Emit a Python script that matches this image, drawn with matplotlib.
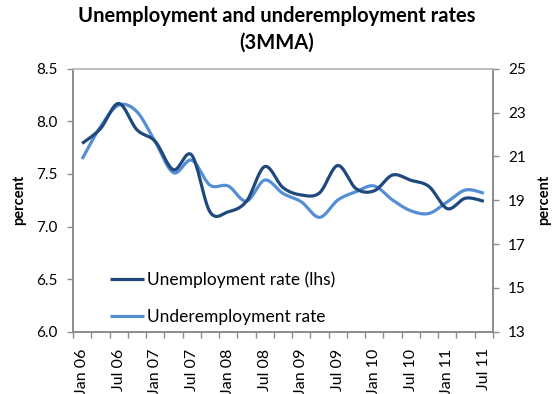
import numpy as np
import matplotlib.pyplot as plt

plt.rcParams['font.family'] = ['Lato', 'DejaVu Sans']

# quarterly points, Jan 06 .. Jul 11 (3 month moving average)
quarters = ['Jan 06', 'Apr 06', 'Jul 06', 'Oct 06', 'Jan 07', 'Apr 07', 'Jul 07', 'Oct 07',
            'Jan 08', 'Apr 08', 'Jul 08', 'Oct 08', 'Jan 09', 'Apr 09', 'Jul 09', 'Oct 09',
            'Jan 10', 'Apr 10', 'Jul 10', 'Oct 10', 'Jan 11', 'Apr 11', 'Jul 11']
unemployment = [7.79, 7.93, 8.17, 7.92, 7.81, 7.54, 7.68, 7.14, 7.14, 7.24, 7.57, 7.37,
                7.30, 7.32, 7.58, 7.36, 7.34, 7.49, 7.44, 7.38, 7.17, 7.27, 7.24]
underemployment = [20.88, 22.35, 23.34, 23.04, 21.67, 20.26, 20.83, 19.69, 19.65, 18.96, 19.92,
                   19.31, 18.93, 18.22, 19.01, 19.39, 19.65, 19.01, 18.52, 18.40, 18.93, 19.47,
                   19.32]
left_ticks = [6.0, 6.5, 7.0, 7.5, 8.0, 8.5]
right_ticks = [13, 15, 17, 19, 21, 23, 25]

dark = '#1f497d'
light = '#558ed5'
grey = '#8c8c8c'


def smooth(y, n=20):
    # Catmull-Rom style bezier through each point, like spreadsheet "smoothed line"
    y = np.asarray(y, float)
    x = np.arange(len(y), dtype=float)
    px = np.concatenate([[x[0]], x, [x[-1]]])
    py = np.concatenate([[y[0]], y, [y[-1]]])
    t = np.linspace(0, 1, n, endpoint=False)[:, None]
    xs, ys = [], []
    for i in range(1, len(x)):
        p0x, p1x, p2x, p3x = px[i - 1], px[i], px[i + 1], px[i + 2]
        p0y, p1y, p2y, p3y = py[i - 1], py[i], py[i + 1], py[i + 2]
        c = np.array([[p1x, p1y],
                      [p1x + (p2x - p0x) / 6, p1y + (p2y - p0y) / 6],
                      [p2x - (p3x - p1x) / 6, p2y - (p3y - p1y) / 6],
                      [p2x, p2y]])
        b = ((1 - t) ** 3 * c[0] + 3 * (1 - t) ** 2 * t * c[1]
             + 3 * (1 - t) * t ** 2 * c[2] + t ** 3 * c[3])
        xs.append(b[:, 0])
        ys.append(b[:, 1])
    xs.append([x[-1]])
    ys.append([y[-1]])
    return np.concatenate(xs), np.concatenate(ys)


fig = plt.figure(figsize=(5.53, 3.94), dpi=100)
ax = fig.add_axes([0.132, 0.158, 0.7595, 0.6675])
ax2 = ax.twinx()

x1, y1 = smooth(unemployment)
x2, y2 = smooth(underemployment)
l1, = ax.plot(x1, y1, color=dark, lw=2.3, solid_capstyle='butt', zorder=3)
l2, = ax2.plot(x2, y2, color=light, lw=2.3, solid_capstyle='butt', zorder=2)
ax.set_zorder(ax2.get_zorder() + 1)
ax.patch.set_visible(False)

n = len(quarters)
ax.set_xlim(-0.5, n - 0.5)
ax.set_ylim(6.0, 8.5)
ax2.set_ylim(13, 25)
ax.set_yticks(left_ticks)
ax.set_yticklabels([f'{v:.1f}' for v in left_ticks])
ax2.set_yticks(right_ticks)

ax.set_xticks(np.arange(0, n, 2))
ax.set_xticklabels(quarters[::2], rotation=90)
ax.set_xticks(np.arange(-0.5, n, 1), minor=True)
ax.tick_params(axis='x', which='major', length=0, pad=12, labelsize=11.5)
ax.tick_params(axis='x', which='minor', length=4, color=grey, width=1)
ax.tick_params(axis='y', length=4, color=grey, width=1, labelsize=11, pad=7)
ax2.tick_params(axis='y', length=4, color=grey, width=1, labelsize=11, pad=7)

for a in (ax, ax2):
    for s in a.spines.values():
        s.set_color(grey)
        s.set_linewidth(1.2)
ax.spines['top'].set_color('#bfbfbf')
ax2.spines['top'].set_color('#bfbfbf')

ax.set_ylabel('percent', fontsize=10.5, fontweight='bold', labelpad=7)
ax2.set_ylabel('percent', fontsize=10.5, fontweight='bold', labelpad=8)

ax.legend([l1, l2], ['Unemployment rate (lhs)', 'Underemployment rate'],
          loc='lower left', bbox_to_anchor=(0.05, -0.035), frameon=False,
          fontsize=12.5, handlelength=2.0, handletextpad=0.15, labelspacing=1.2)

fig.suptitle('Unemployment and underemployment rates\n(3MMA)', fontsize=14.5,
             fontweight='bold', y=0.985, linespacing=1.45)

fig.savefig('out.png', dpi=100)
